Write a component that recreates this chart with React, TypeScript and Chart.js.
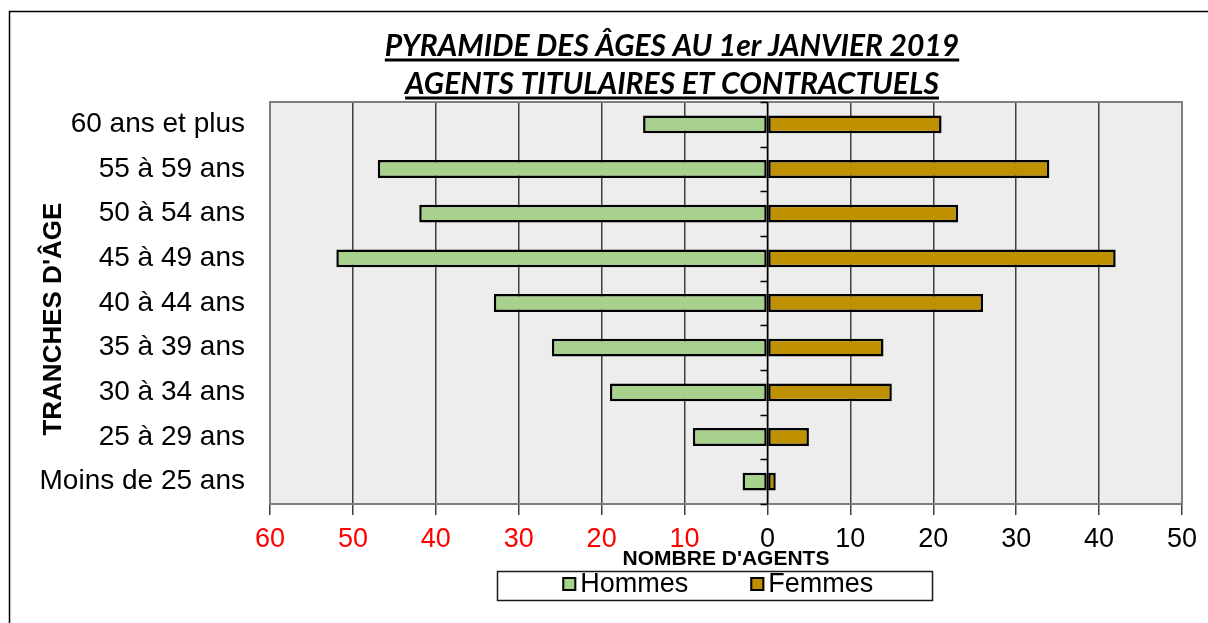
import React, { useEffect, useRef } from "react";
import { Chart, registerables } from "chart.js";

Chart.register(...registerables);

// ---- Data ----
const categories = [
  "60 ans et plus",
  "55 à 59 ans",
  "50 à 54 ans",
  "45 à 49 ans",
  "40 à 44 ans",
  "35 à 39 ans",
  "30 à 34 ans",
  "25 à 29 ans",
  "Moins de 25 ans",
];
const hommes = [-15, -47, -42, -52, -33, -26, -19, -9, -3];
const femmes = [21, 34, 23, 42, 26, 14, 15, 5, 1];
const seriesLabels = ["Hommes", "Femmes"];
const seriesColors = ["#A9D18E", "#BF9000"];
const titleLines = ["PYRAMIDE DES ÂGES AU 1er JANVIER 2019", "AGENTS TITULAIRES ET CONTRACTUELS"];
const xAxisTitle = "NOMBRE D'AGENTS";
const yAxisTitle = "TRANCHES D'ÂGE";
const xMin = -60;
const xMax = 50;
const xStep = 10;

const SANS = "'Liberation Sans', Arial, sans-serif";

const decorPlugin = {
  id: "decor",
  beforeDraw(chart: any) {
    const { ctx, chartArea: a, width, height } = chart;
    ctx.save();
    ctx.fillStyle = "#ffffff";
    ctx.fillRect(0, 0, width, height);
    ctx.strokeStyle = "#000000";
    ctx.lineWidth = 1.5;
    ctx.strokeRect(9.5, 11.5, width + 40, height + 40);
    ctx.fillStyle = "#EDEDED";
    ctx.fillRect(a.left, a.top, a.width, a.height);
    ctx.restore();
  },
  afterDraw(chart: any) {
    const { ctx, chartArea: a, scales } = chart;
    const xs = scales.x;
    const ys = scales.y;
    ctx.save();
    // plot border
    ctx.strokeStyle = "#7F7F7F";
    ctx.lineWidth = 2;
    ctx.strokeRect(a.left, a.top, a.width, a.height);

    // zero axis with small ticks at category boundaries
    const x0 = Math.round(xs.getPixelForValue(0)) + 0.5;
    ctx.strokeStyle = "#000000";
    ctx.lineWidth = 1.5;
    ctx.beginPath();
    ctx.moveTo(x0, a.top);
    ctx.lineTo(x0, a.bottom);
    for (let i = 0; i <= categories.length; i++) {
      const y = Math.round(ys.getPixelForValue(i - 0.5)) + 0.5;
      ctx.moveTo(x0 - 7, y);
      ctx.lineTo(x0, y);
    }
    ctx.stroke();

    // vertical axis title
    ctx.save();
    ctx.translate(a.left - 216, a.top + a.height * 0.54);
    ctx.rotate(-Math.PI / 2);
    ctx.fillStyle = "#000000";
    ctx.textAlign = "center";
    ctx.textBaseline = "middle";
    ctx.font = "bold 26px " + SANS;
    ctx.fillText(yAxisTitle, 0, 0);
    ctx.restore();

    // title (bold italic underlined)
    const cx = a.left + a.width * 0.4408;
    ctx.fillStyle = "#000000";
    ctx.textAlign = "center";
    ctx.textBaseline = "alphabetic";
    ctx.font = "italic bold 30px Lato, 'Open Sans', sans-serif";
    const baselines = [a.top - 46, a.top - 8];
    titleLines.forEach((line, i) => {
      const w = ctx.measureText(line).width;
      ctx.fillText(line, cx, baselines[i]);
      ctx.fillRect(cx - w / 2, baselines[i] + 2.5, w, 3);
    });

    // legend with frame
    const ds = chart.data.datasets;
    ctx.font = "27px " + SANS;
    const box = 14;
    const gap = 4;
    const spacing = 62;
    const widths = ds.map((d: any) => box + gap + ctx.measureText(d.label).width);
    const total = widths.reduce((s: number, w: number) => s + w, 0) + spacing * (ds.length - 1);
    const lcx = a.left + a.width * 0.491;
    const ly = a.bottom + 80;
    ctx.strokeStyle = "#1a1a1a";
    ctx.lineWidth = 1.5;
    ctx.strokeRect(a.left + 227.5, a.bottom + 67.5, 435, 29);
    let x = lcx - total / 2;
    ctx.textAlign = "left";
    ctx.textBaseline = "middle";
    ds.forEach((d: any, i: number) => {
      ctx.fillStyle = d.backgroundColor;
      ctx.fillRect(x, ly - box / 2, box, box);
      ctx.strokeStyle = "#000000";
      ctx.lineWidth = 2;
      ctx.strokeRect(x + 1, ly - box / 2 + 1, box - 2, box - 2);
      ctx.fillStyle = "#000000";
      ctx.fillText(d.label, x + box + gap, ly + 1);
      x += widths[i] + spacing;
    });
    ctx.restore();
  },
};

export default function App() {
  const ref = useRef<HTMLCanvasElement>(null);

  useEffect(() => {
    if (!ref.current) return;
    const chart = new Chart(ref.current, {
      type: "bar",
      data: {
        labels: categories,
        datasets: [
          {
            label: seriesLabels[0],
            data: hommes,
            backgroundColor: seriesColors[0],
            borderColor: "#000000",
            borderWidth: 2.5,
            borderSkipped: false,
            barPercentage: 0.4,
            categoryPercentage: 1,
          },
          {
            label: seriesLabels[1],
            data: femmes,
            backgroundColor: seriesColors[1],
            borderColor: "#000000",
            borderWidth: 2.5,
            borderSkipped: false,
            barPercentage: 0.4,
            categoryPercentage: 1,
          },
        ],
      },
      options: {
        indexAxis: "y",
        responsive: false,
        animation: false,
        devicePixelRatio: 1,
        events: [],
        layout: { padding: { top: 102, left: 10, right: 26, bottom: 51 } },
        plugins: {
          legend: { display: false },
          tooltip: { enabled: false },
          title: { display: false },
        },
        scales: {
          x: {
            type: "linear",
            stacked: true,
            min: xMin,
            max: xMax,
            ticks: {
              stepSize: xStep,
              padding: 8,
              font: { family: SANS, size: 27 },
              color: (c: any) => (c.tick && c.tick.value < 0 ? "#FF0000" : "#000000"),
              callback: (v: any) => String(Math.abs(Number(v))),
            },
            grid: {
              color: "#404040",
              lineWidth: 1.5,
              tickLength: 11,
              tickColor: "#404040",
            },
            border: { display: false },
            title: {
              display: true,
              text: xAxisTitle,
              color: "#000000",
              font: { family: SANS, size: 21, weight: "bold" },
              padding: { top: 0, bottom: 0 },
            },
            afterFit: (s: any) => {
              s.height = 68;
            },
          },
          y: {
            type: "category",
            stacked: true,
            ticks: {
              padding: 25,
              font: { family: SANS, size: 28 },
              color: "#000000",
            },
            grid: { display: false, drawTicks: false, tickLength: 0 },
            border: { display: false },
            title: { display: false, text: yAxisTitle },
            afterFit: (s: any) => {
              s.width = 260;
            },
          },
        },
      },
      plugins: [decorPlugin],
    } as any);
    return () => chart.destroy();
  }, []);

  return (
    <div style={{ position: "fixed", left: 0, top: 0, width: 1208, height: 623, background: "#ffffff" }}>
      <canvas ref={ref} width={1208} height={623} style={{ display: "block", width: 1208, height: 623 }} />
    </div>
  );
}
